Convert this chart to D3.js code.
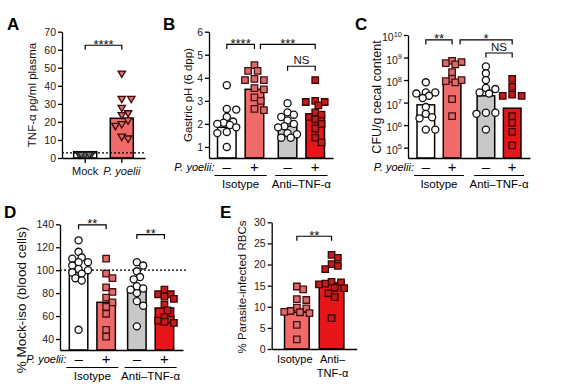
<!DOCTYPE html>
<html>
<head>
<meta charset="utf-8">
<script src="https://cdn.jsdelivr.net/npm/d3@7"></script>
<style>
  body { margin: 0; background: #fff; }
  svg { display: block; }
</style>
</head>
<body>
<div id="chart"></div>
<script>
// ---- values ----
// A: TNF-a in plasma
const aCats = ["Mock", "P. yoelii"];
const aBars = [3.5, 22];
const aMock = [2, 2, 2, 2, 2];
const aPy = [47, 33, 33, 28, 25, 24, 21, 19, 18, 12, 11];
const aTicks = [0, 10, 20, 30, 40, 50, 60, 70];

// shared grouping for B, C, D
const groups = ["Isotype", "Anti–TNF-α"];
const infection = ["–", "+"];

// B: gastric pH
const bBars = [1.85, 3.5, 1.9, 2.3];
const bIsoNeg = [3.68, 2.65, 2.62, 2.3, 2.1, 2.05, 2.0, 1.95, 1.85, 1.65, 1.6, 1.0];
const bIsoPos = [4.55, 4.3, 4.3, 3.95, 3.9, 3.9, 3.55, 3.5, 3.15, 3.0, 2.65, 2.6];
const bAntiNeg = [2.9, 2.5, 2.4, 2.3, 2.15, 2.0, 1.9, 1.85, 1.6, 1.55, 1.4, 1.4];
const bAntiPos = [3.9, 3.0, 2.95, 2.95, 2.8, 2.5, 2.4, 2.3, 2.2, 2.0, 1.8, 1.4, 1.2];
const bTicks = [1, 2, 3, 4, 5, 6];

// C: CFU/g cecal content, stored as log10
const cBarsLog = [6.9, 8.0, 7.3, 6.75];
const cIsoNegLog = [7.9, 7.45, 7.45, 7.4, 7.3, 7.2, 6.8, 6.5, 6.35, 6.3, 5.8, 5.8];
const cIsoPosLog = [8.85, 8.8, 8.75, 8.7, 8.35, 8.05, 8.0, 7.95, 7.9, 7.15, 6.4];
const cAntiNegLog = [8.6, 8.3, 8.0, 7.65, 7.6, 7.45, 7.4, 6.55, 6.55, 6.5, 5.8];
const cAntiPosLog = [8.05, 7.7, 7.35, 7.3, 7.3, 6.4, 6.1, 5.7, 5.1];
const cTickExp = [5, 6, 7, 8, 9, 10];

// D: % mock-iso (blood cells)
const dBars = [98, 72, 83, 67];
const dIsoNeg = [126, 116, 111, 110, 107, 107, 104, 101, 100, 98, 97, 93, 91, 48];
const dIsoPos = [110, 97, 93, 85, 81, 76, 72, 68, 62, 48, 42];
const dAntiNeg = [107, 104, 99, 94, 92, 86, 84, 83, 80, 73, 69, 51];
const dAntiPos = [83, 79, 79, 77, 75, 70, 65, 59, 57, 56, 55, 54];
const dTicks = [40, 60, 80, 100, 120, 140];

// E: % parasite-infected RBCs
const eCats = ["Isotype", "Anti–TNF-α"];
const eBars = [8.7, 15.7];
const eIso = [14.8, 14.1, 11.8, 11.6, 9.8, 9.6, 9.0, 8.8, 8.7, 8.5, 5.7, 2.3];
const eAnti = [22.3, 21.6, 20.1, 19.7, 18.9, 15.9, 15.8, 15.5, 15.3, 14.5, 14.4, 13.2, 12.3, 7.3];
const eTicks = [0, 5, 10, 15, 20, 25, 30];

// ---- styling ----
const W = 576, H = 387;
const FONT = "'Liberation Sans', Arial, Helvetica, sans-serif";
const barFill = ["#ffffff", "#f06a6a", "#c8c8c8", "#e8151b"];
const ptStyle = {
  circle: { type: d3.symbolCircle, size: 40, fill: "#ffffff", stroke: "#111" },
  sqLight: { type: d3.symbolSquare, size: 42, fill: "#d96c6c", stroke: "#4a0d0d" },
  sqRed: { type: d3.symbolSquare, size: 42, fill: "#c41b1b", stroke: "#3a0404" },
  triLight: { type: d3.symbolTriangle, size: 24, fill: "#d96c6c", stroke: "#3a0808", rot: 180 },
  triGray: { type: d3.symbolTriangle, size: 20, fill: "#777", stroke: "#222", rot: 180 }
};
const intFmt = d3.format("d");

const svg = d3.select("#chart").append("svg")
  .attr("width", W)
  .attr("height", H)
  .attr("viewBox", [0, 0, W, H])
  .style("font-family", FONT);

svg.append("rect").attr("width", W).attr("height", H).attr("fill", "#fff");

// deterministic beeswarm kept inside +-maxOff of the bar centre
function swarm(vals, yv, cx, size, maxOff) {
  const pts = [];
  const step = size * 0.45;
  const n = Math.floor(maxOff / step);
  vals.forEach(v => {
    const py = yv(v);
    let best = 0, bestD = -1;
    for (let k = 0; k <= n * 2; k++) {
      const off = (k % 2 ? 1 : -1) * Math.ceil(k / 2) * step;
      let d = Infinity;
      pts.forEach(p => { d = Math.min(d, Math.hypot(p.x - cx - off, p.y - py)); });
      if (d >= size * 0.92) { best = off; break; }
      if (d > bestD) { bestD = d; best = off; }
    }
    pts.push({ x: cx + best, y: py });
  });
  return pts;
}

function drawPoints(g, pts, st) {
  g.append("g").selectAll("path")
    .data(pts)
    .join("path")
    .attr("transform", d => `translate(${d.x},${d.y})` + (st.rot ? ` rotate(${st.rot})` : ""))
    .attr("d", d3.symbol().type(st.type).size(st.size))
    .attr("fill", st.fill)
    .attr("stroke", st.stroke)
    .attr("stroke-width", 1.3);
}

function styleAxis(ag) {
  ag.select(".domain").attr("stroke", "#000").attr("stroke-width", 1.3);
  ag.selectAll(".tick line").attr("stroke", "#000").attr("stroke-width", 1.3);
  ag.selectAll(".tick text").attr("font-size", 10.5).attr("fill", "#222").attr("font-family", FONT);
}

function bracket(g, x1, x2, yy, label) {
  g.append("path")
    .attr("d", `M${x1},${yy + 4.5}V${yy}H${x2}V${yy + 4.5}`)
    .attr("fill", "none").attr("stroke", "#000").attr("stroke-width", 1.2);
  const stars = label !== "NS";
  g.append("text")
    .attr("x", (x1 + x2) / 2)
    .attr("y", stars ? yy + 3.5 : yy - 2)
    .attr("text-anchor", "middle")
    .attr("font-size", stars ? 13 : 11.5)
    .attr("fill", "#111")
    .text(label);
}

function panelLetter(x, y, t) {
  svg.append("text").attr("x", x).attr("y", y)
    .attr("font-size", 17).attr("font-weight", "bold").text(t);
}

function yTitle(x, yc, t, fs) {
  svg.append("text")
    .attr("transform", `translate(${x},${yc}) rotate(-90)`)
    .attr("text-anchor", "middle")
    .attr("font-size", fs)
    .attr("fill", "#111")
    .text(t);
}

// ---- grouped panel (B, C, D) ----
function groupedPanel(cfg) {
  const g = svg.append("g");
  const y = cfg.y, yv = cfg.yv;
  const base = y.range()[0];
  const outer = d3.scaleBand().domain(groups).range(cfg.xr).paddingInner(cfg.pi).paddingOuter(cfg.po);
  const inner = d3.scaleBand().domain(infection).range([0, outer.bandwidth()]).paddingInner(0.33);
  const cx = k => outer(groups[Math.floor(k / 2)]) + inner(infection[k % 2]) + inner.bandwidth() / 2;
  const bw = inner.bandwidth();

  g.append("g").selectAll("rect")
    .data(cfg.bars)
    .join("rect")
    .attr("x", (d, k) => cx(k) - bw / 2)
    .attr("y", d => yv(d))
    .attr("width", bw)
    .attr("height", d => base - yv(d))
    .attr("fill", (d, k) => barFill[k])
    .attr("stroke", "#000")
    .attr("stroke-width", 1.5);

  if (cfg.refLine != null) {
    g.append("line")
      .attr("x1", cfg.xr[0]).attr("x2", cfg.xr[1] + 4)
      .attr("y1", yv(cfg.refLine)).attr("y2", yv(cfg.refLine))
      .attr("stroke", "#000").attr("stroke-width", 1.2).attr("stroke-dasharray", "2,2");
  }

  const styles = [ptStyle.circle, ptStyle.sqLight, ptStyle.circle, ptStyle.sqRed];
  cfg.points.forEach((vals, k) => drawPoints(g, swarm(vals, yv, cx(k), 7, bw / 2 + 1.5), styles[k]));

  // axes
  const ay = g.append("g").attr("transform", `translate(${cfg.xr[0]},0)`).call(cfg.axis);
  styleAxis(ay);
  if (cfg.afterAxis) cfg.afterAxis(ay);
  const ax = g.append("g").attr("transform", `translate(0,${base})`)
    .call(d3.axisBottom(d3.scaleLinear().range(cfg.xr)).tickValues([]).tickSizeOuter(0));
  styleAxis(ax);

  // brackets
  cfg.brackets.forEach(b => {
    bracket(g, cx(b[0]) + (b[4] || 0), cx(b[1]), yv(b[2]), b[3]);
  });

  // infection row + group labels
  g.append("text")
    .attr("x", outer(groups[0]) - 3).attr("y", base + 13)
    .attr("text-anchor", "end").attr("font-size", 11).attr("font-style", "italic")
    .text("P. yoelii:");
  g.append("g").selectAll("text")
    .data(cfg.bars)
    .join("text")
    .attr("x", (d, k) => cx(k))
    .attr("y", base + 14)
    .attr("text-anchor", "middle")
    .attr("font-size", 15)
    .text((d, k) => infection[k % 2]);
  groups.forEach(gr => {
    g.append("line")
      .attr("x1", outer(gr) - 3).attr("x2", outer(gr) + outer.bandwidth() + 3)
      .attr("y1", base + 17.5).attr("y2", base + 17.5)
      .attr("stroke", "#000").attr("stroke-width", 1.2);
    g.append("text")
      .attr("x", outer(gr) + outer.bandwidth() / 2)
      .attr("y", base + 29.5)
      .attr("text-anchor", "middle").attr("font-size", 11.5)
      .text(gr);
  });
}

// ---- A ----
(function () {
  const g = svg.append("g");
  const y = d3.scaleLinear().domain([0, 70]).range([158, 31.7]);
  const x = d3.scaleBand().domain(aCats).range([62, 145]).paddingInner(0.37).paddingOuter(0.32);
  g.append("g").selectAll("rect")
    .data(aBars)
    .join("rect")
    .attr("x", (d, i) => x(aCats[i]))
    .attr("y", d => y(d))
    .attr("width", x.bandwidth())
    .attr("height", d => y(0) - y(d))
    .attr("fill", (d, i) => i ? barFill[1] : "#fff")
    .attr("stroke", "#000").attr("stroke-width", 1.5);
  g.append("line")
    .attr("x1", 62).attr("x2", 145)
    .attr("y1", y(2.8)).attr("y2", y(2.8))
    .attr("stroke", "#000").attr("stroke-width", 1.2).attr("stroke-dasharray", "2,2");
  const cxA = i => x(aCats[i]) + x.bandwidth() / 2;
  drawPoints(g, swarm(aMock, y, cxA(0), 4.5, 9), ptStyle.triGray);
  drawPoints(g, swarm(aPy, y, cxA(1), 7, 13), ptStyle.triLight);
  const ay = g.append("g").attr("transform", "translate(62,0)")
    .call(d3.axisLeft(y).tickValues(aTicks).tickFormat(intFmt).tickSize(4).tickPadding(2).tickSizeOuter(0));
  styleAxis(ay);
  const ax = g.append("g").attr("transform", `translate(0,${y(0)})`)
    .call(d3.axisBottom(x).tickSize(5).tickSizeOuter(0).tickPadding(4));
  styleAxis(ax);
  ax.selectAll(".tick text").attr("font-size", 11).attr("fill", "#111")
    .attr("font-style", d => d === "P. yoelii" ? "italic" : null);
  bracket(g, cxA(0), cxA(1), y(62.5), "****");
  panelLetter(7, 30, "A");
  yTitle(36, 95, "TNF-α pg/ml plasma", 11.5);
})();

// ---- B ----
(function () {
  const y = d3.scaleLinear().domain([0.52, 6]).range([158, 31.7]);
  groupedPanel({
    y, yv: y,
    xr: [209, 333], pi: 0.24, po: 0.14,
    bars: bBars,
    points: [bIsoNeg, bIsoPos, bAntiNeg, bAntiPos],
    axis: d3.axisLeft(y).tickValues(bTicks).tickFormat(intFmt).tickSize(4).tickPadding(2).tickSizeOuter(0),
    brackets: [[0, 1, 5.45, "****"], [1, 3, 5.45, "***", 6], [2, 3, 4.5, "NS"]]
  });
  panelLetter(163, 30, "B");
  yTitle(192, 95, "Gastric pH (6 dpp)", 11.5);
})();

// ---- C ----
(function () {
  const y = d3.scaleLog().domain([Math.pow(10, 4.54), 1e10]).range([158, 35]);
  const yv = e => y(Math.pow(10, e));
  groupedPanel({
    y, yv,
    xr: [408, 530], pi: 0.27, po: 0.15,
    bars: cBarsLog,
    points: [cIsoNegLog, cIsoPosLog, cAntiNegLog, cAntiPosLog],
    axis: d3.axisLeft(y).tickValues(cTickExp.map(e => Math.pow(10, e))).tickFormat("")
      .tickSize(4).tickPadding(2).tickSizeOuter(0),
    afterAxis: ay => {
      ay.selectAll(".tick text").each(function (d) {
        const t = d3.select(this);
        t.append("tspan").attr("font-size", 10.5).text("10");
        t.append("tspan").attr("font-size", 7.5).attr("dy", -4.5).text(Math.round(Math.log10(d)));
        t.attr("dy", "0.55em");
      });
    },
    brackets: [[0, 1, 9.78, "**"], [1, 3, 9.78, "*", 8], [2, 3, 9.2, "NS"]]
  });
  panelLetter(355, 30, "C");
  yTitle(381, 97, "CFU/g cecal content", 12.5);
})();

// ---- D ----
(function () {
  const y = d3.scaleLinear().domain([30.4, 140]).range([350, 224.3]);
  groupedPanel({
    y, yv: y,
    xr: [60, 183], pi: 0.21, po: 0.16,
    bars: dBars,
    refLine: 100,
    points: [dIsoNeg, dIsoPos, dAntiNeg, dAntiPos],
    axis: d3.axisLeft(y).tickValues(dTicks).tickFormat(intFmt).tickSize(4).tickPadding(2).tickSizeOuter(0),
    brackets: [[0, 1, 139.5, "**"], [2, 3, 131, "**"]]
  });
  panelLetter(4, 218, "D");
  yTitle(26, 300, "% Mock-iso (blood cells)", 13.5);
})();

// ---- E ----
(function () {
  const g = svg.append("g");
  const y = d3.scaleLinear().domain([0, 30]).range([349, 222.3]);
  const x = d3.scaleBand().domain(eCats).range([271.7, 356.7]).paddingInner(0.29).paddingOuter(0.37);
  const cxE = i => x(eCats[i]) + x.bandwidth() / 2;
  g.append("g").selectAll("rect")
    .data(eBars)
    .join("rect")
    .attr("x", (d, i) => x(eCats[i]))
    .attr("y", d => y(d))
    .attr("width", x.bandwidth())
    .attr("height", d => y(0) - y(d))
    .attr("fill", (d, i) => i ? barFill[3] : barFill[1])
    .attr("stroke", "#000").attr("stroke-width", 1.5);
  drawPoints(g, swarm(eIso, y, cxE(0), 7, x.bandwidth() / 2 + 1), ptStyle.sqLight);
  drawPoints(g, swarm(eAnti, y, cxE(1), 7, x.bandwidth() / 2 + 1), ptStyle.sqRed);
  const ay = g.append("g").attr("transform", "translate(271.7,0)")
    .call(d3.axisLeft(y).tickValues(eTicks).tickFormat(intFmt).tickSize(4).tickPadding(2).tickSizeOuter(0));
  styleAxis(ay);
  const ax = g.append("g").attr("transform", `translate(0,${y(0)})`)
    .call(d3.axisBottom(x).tickSize(0).tickSizeOuter(0).tickFormat(""));
  styleAxis(ax);
  g.append("text").attr("x", cxE(0) - 2).attr("y", y(0) + 14)
    .attr("text-anchor", "middle").attr("font-size", 11).text(eCats[0]);
  const lab = g.append("text").attr("x", cxE(1)).attr("y", y(0) + 14)
    .attr("text-anchor", "middle").attr("font-size", 11);
  lab.append("tspan").attr("x", cxE(1) + 1).text("Anti–");
  lab.append("tspan").attr("x", cxE(1) + 1).attr("dy", 14).text("TNF-α");
  bracket(g, cxE(0), cxE(1), y(26.7), "**");
  panelLetter(220, 218, "E");
  yTitle(246, 287, "% Parasite-infected RBCs", 11.5);
})();
</script>
</body>
</html>
